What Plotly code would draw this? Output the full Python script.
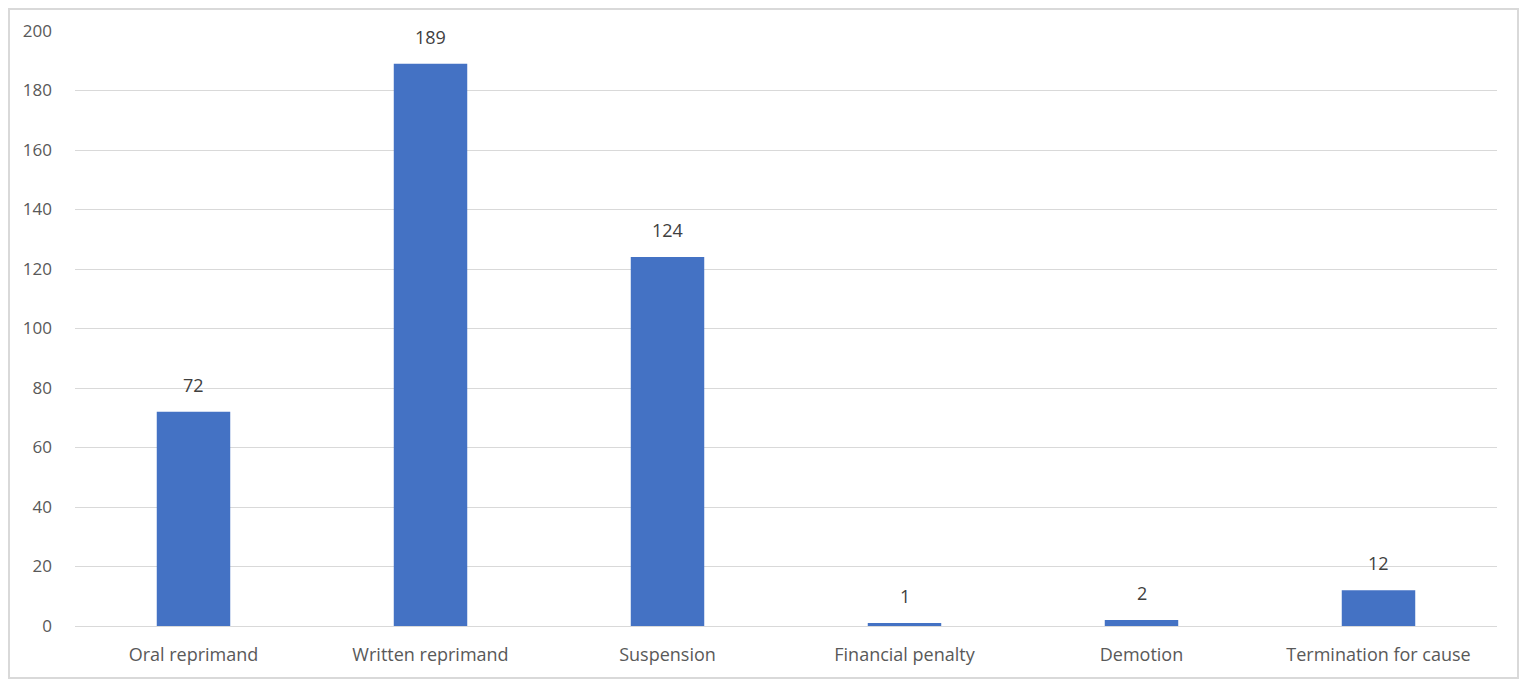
import plotly.graph_objects as go

categories = ["Oral reprimand", "Written reprimand", "Suspension",
              "Financial penalty", "Demotion", "Termination for cause"]
counts = [72, 189, 124, 1, 2, 12]
y_ticks = [0, 20, 40, 60, 80, 100, 120, 140, 160, 180, 200]

# the page puts the figure 8px in from the window corner
OFF = 8
W, H = 1527 - 2 * OFF, 687 - 2 * OFF
L, T = 75 - OFF, 31 - OFF
R = W - (1497 - OFF)
B = H - (626 - OFF)
pw, ph = W - L - R, H - T - B

fig = go.Figure()
fig.add_trace(go.Bar(
    x=categories, y=counts,
    marker=dict(color="#4472C4", line=dict(width=0)),
    hoverinfo="x+y",
))

for c, v in zip(categories, counts):
    fig.add_annotation(x=c, y=v, text=str(v), showarrow=False,
                       yanchor="bottom", yshift=13,
                       font=dict(size=18, color="#404040"))

fig.update_layout(
    width=W, height=H,
    margin=dict(l=L, r=R, t=T, b=B),
    paper_bgcolor="white", plot_bgcolor="white",
    font=dict(family="Open Sans, sans-serif", size=17, color="#595959"),
    bargap=0.69,
    showlegend=False,
    shapes=[dict(
        type="rect", xref="paper", yref="paper", layer="below",
        x0=(1 - L) / pw, x1=(W - 1 - L) / pw,
        y0=-(B - 1) / ph, y1=(ph + T - 1) / ph,
        line=dict(color="#D9D9D9", width=2),
    )],
)
fig.update_xaxes(showline=False, showgrid=False, ticks="",
                 ticklabelstandoff=16,
                 tickfont=dict(size=18, color="#595959"))
fig.update_yaxes(range=[0, 200], tickvals=y_ticks, showgrid=True,
                 gridcolor="#D9D9D9", gridwidth=1, zeroline=True,
                 zerolinecolor="#D9D9D9", zerolinewidth=1, ticks="",
                 ticklabelstandoff=22,
                 tickfont=dict(size=17, color="#595959"))

fig.write_html("out.html")
